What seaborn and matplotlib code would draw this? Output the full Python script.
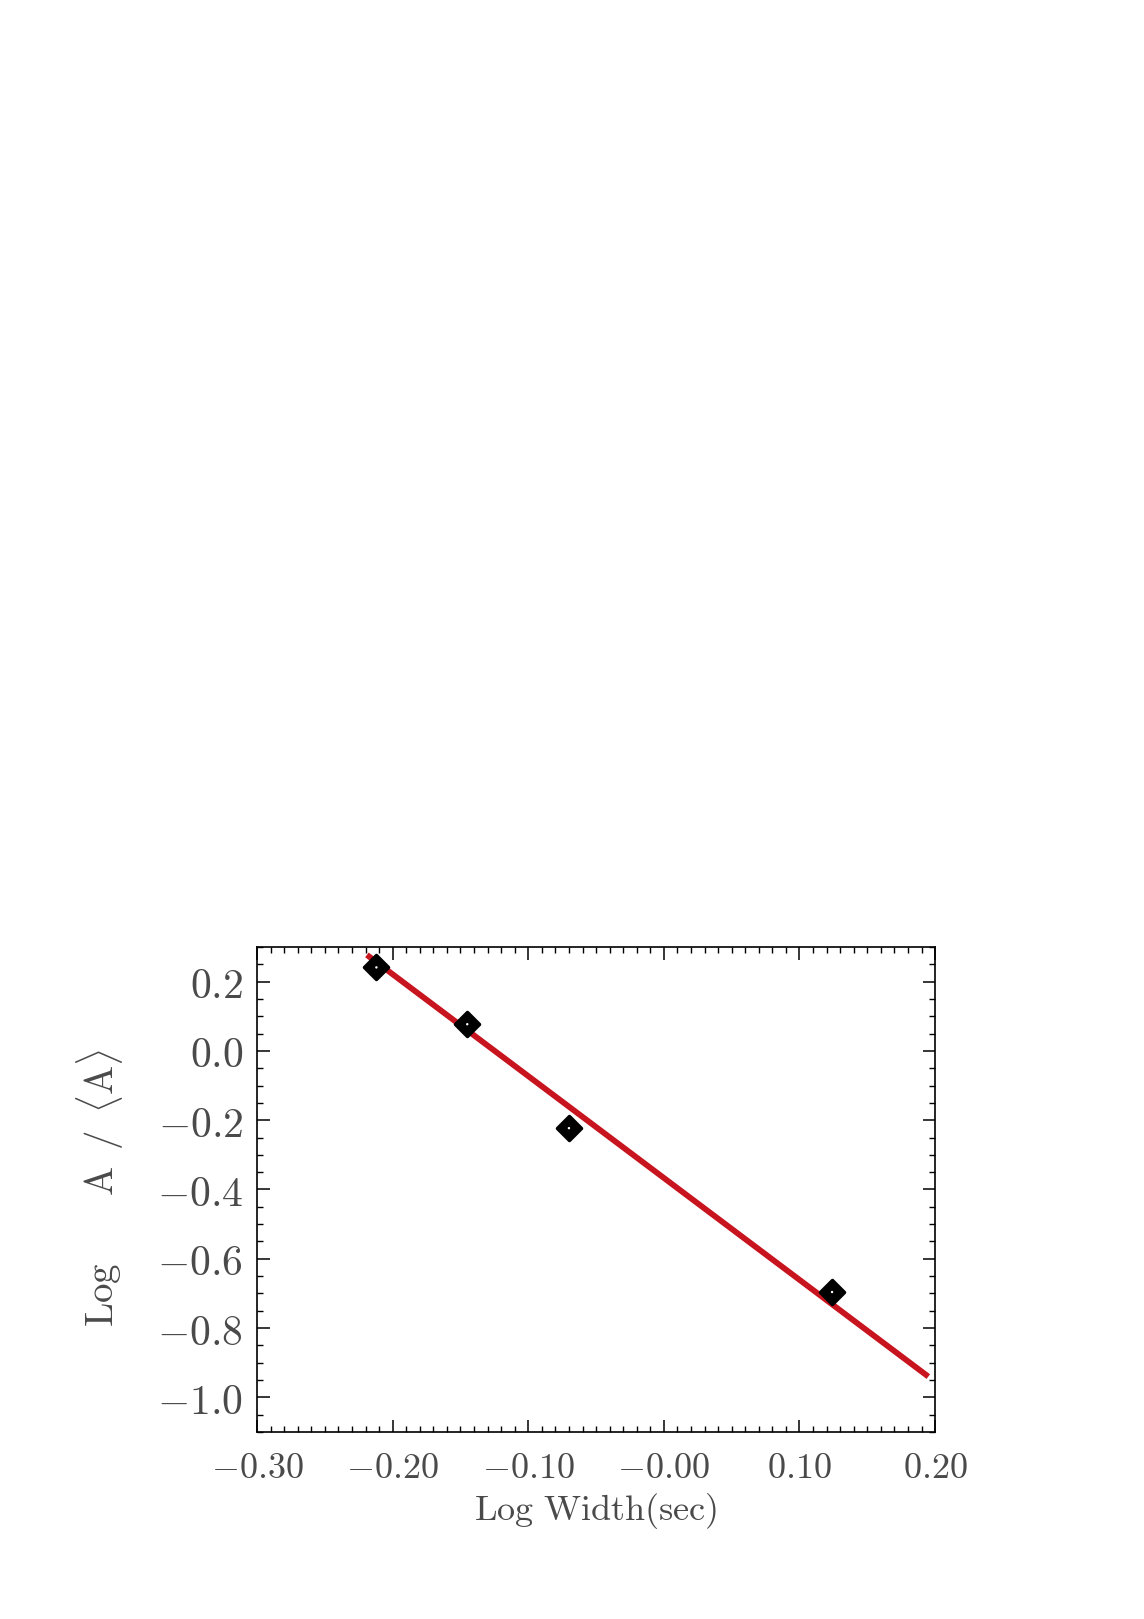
import matplotlib
matplotlib.use("Agg")
import matplotlib.pyplot as plt
import seaborn as sns
import pandas as pd
from matplotlib.ticker import FixedLocator, FixedFormatter, MultipleLocator

# ---- data ----
log_width = [-0.212, -0.145, -0.070, 0.124]
log_amp = [0.241, 0.077, -0.223, -0.696]
fit_x = [-0.219, 0.195]
fit_y = [0.277, -0.940]
x_ticks = [-0.30, -0.20, -0.10, 0.00, 0.10, 0.20]
x_tick_labels = ["\u22120.30", "\u22120.20", "\u22120.10", "\u22120.00", "0.10", "0.20"]
y_ticks = [0.2, 0.0, -0.2, -0.4, -0.6, -0.8, -1.0]
y_tick_labels = ["0.2", "0.0", "\u22120.2", "\u22120.4", "\u22120.6", "\u22120.8", "\u22121.0"]
x_label = r"$\mathrm{Log\ Width(sec)}$"
y_label = r"$\mathrm{Log}\qquad\mathrm{A}\ \,/\ \,\langle\mathrm{A}\rangle$"


def as_math(s):
    return "$" + s.replace("\u2212", "-") + "$"


sns.set_theme(style="ticks")
plt.rcParams["mathtext.fontset"] = "cm"
plt.rcParams["font.family"] = ["DejaVu Serif", "DejaVu Sans"]

df = pd.DataFrame({"x": log_width, "y": log_amp})
fit = pd.DataFrame({"x": fit_x, "y": fit_y})

fig = plt.figure(figsize=(11.44, 16.19), dpi=100)
ax = fig.add_axes([0.2247, 0.1155, 0.5927, 0.2996])

sns.lineplot(data=fit, x="x", y="y", ax=ax, color="#c8141e", linewidth=4.2,
             solid_capstyle="butt", zorder=2)
sns.scatterplot(data=df, x="x", y="y", ax=ax, marker="D", s=150,
                facecolor="black", edgecolor="black", linewidth=2.5, zorder=3)
sns.scatterplot(data=df, x="x", y="y", ax=ax, marker="o", s=3,
                facecolor="white", edgecolor="none", linewidth=0, zorder=4)

ax.set_xlim(-0.30, 0.20)
ax.set_ylim(-1.1, 0.3)

ax.xaxis.set_major_locator(FixedLocator(x_ticks))
ax.xaxis.set_major_formatter(FixedFormatter([as_math(s) for s in x_tick_labels]))
ax.xaxis.set_minor_locator(MultipleLocator(0.01))
ax.yaxis.set_major_locator(FixedLocator(y_ticks))
ax.yaxis.set_major_formatter(FixedFormatter([as_math(s) for s in y_tick_labels]))
ax.yaxis.set_minor_locator(MultipleLocator(0.05))

ax.tick_params(which="both", direction="in", top=True, right=True, color="black")
ax.tick_params(which="major", length=9, width=1.1, labelcolor="#4a4a4a")
ax.tick_params(axis="x", which="major", pad=14, labelsize=26)
ax.tick_params(axis="y", which="major", pad=10, labelsize=30)
ax.tick_params(which="minor", length=4.5, width=1.0)

for sp in ax.spines.values():
    sp.set_linewidth(1.2)
    sp.set_color("black")

ax.set_xlabel(x_label, fontsize=26, color="#4a4a4a", labelpad=4)
ax.set_ylabel(y_label, fontsize=28, color="#4a4a4a")
ax.yaxis.set_label_coords(-0.194, 0.503)

fig.savefig("out.png", dpi=100, facecolor="white")
